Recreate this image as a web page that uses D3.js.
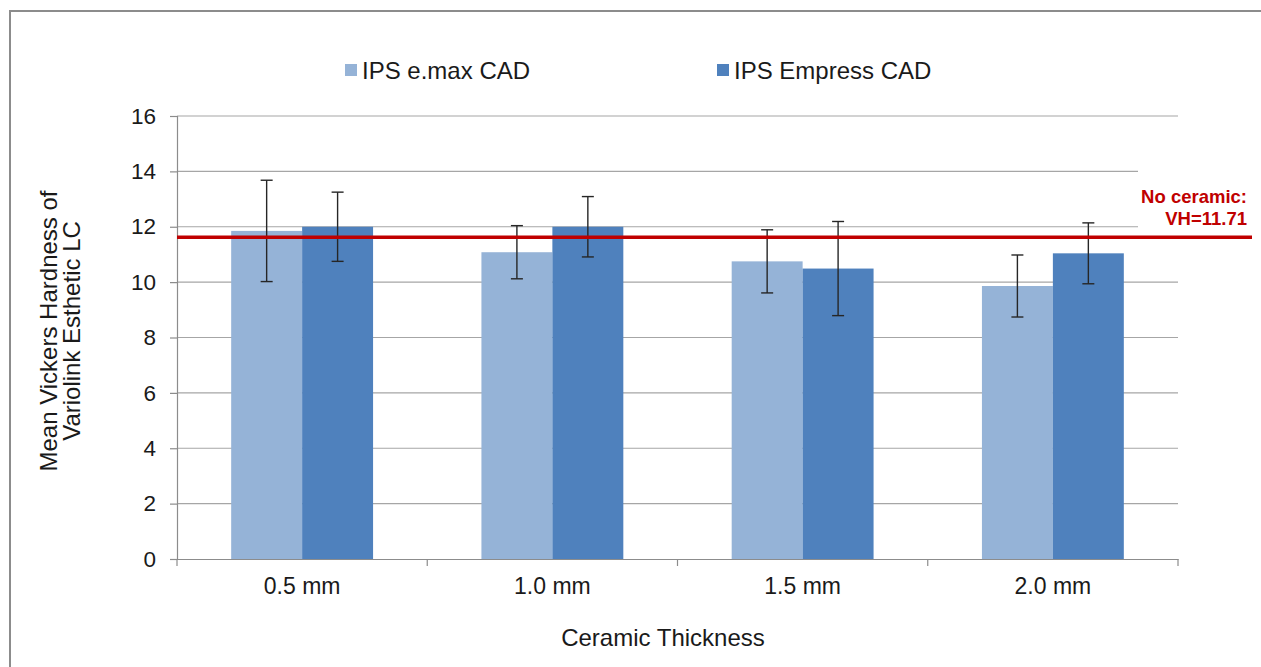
<!DOCTYPE html>
<html><head><meta charset="utf-8">
<script src="https://cdn.jsdelivr.net/npm/d3@7"></script>
<style>
html,body{margin:0;padding:0;background:#fff;}
svg text{font-family:Arial,"Liberation Sans",sans-serif;fill:#1a1a1a;}
</style></head>
<body>
<svg id="chart" width="1261" height="667"></svg>
<script>
const categories = ["0.5 mm", "1.0 mm", "1.5 mm", "2.0 mm"];
const seriesNames = ["IPS e.max CAD", "IPS Empress CAD"];
const emaxMean = [11.85, 11.08, 10.75, 9.86];
const emaxErr = [1.83, 0.96, 1.14, 1.12];
const empressMean = [12.0, 12.0, 10.49, 11.04];
const empressErr = [1.25, 1.09, 1.70, 1.10];
const yTicks = [0, 2, 4, 6, 8, 10, 12, 14, 16];
const refLineValue = 11.62;
const refLabel = ["No ceramic:", "VH=11.71"];
const colors = ["#95b3d7", "#4f81bd"];

(function(){
const FONT = "Arial, 'Liberation Sans', sans-serif";
const svg = d3.select("#chart");
// outer border
svg.append("rect").attr("x",10).attr("y",11).attr("width",1300).attr("height",700)
  .attr("fill","#fff").attr("stroke","#8c8c8c").attr("stroke-width",2);

const pLeft = 177, pRight = 1178, pTop = 116, pBottom = 559;
const x = d3.scaleBand().domain(categories).range([pLeft, pRight]).paddingInner(0).paddingOuter(0);
const y = d3.scaleLinear().domain([0, 16]).range([pBottom, pTop]);

// gridlines
svg.append("g").selectAll("line").data(yTicks.filter(d => d > 0)).join("line")
  .attr("x1", pLeft).attr("x2", pRight).attr("y1", d => y(d)).attr("y2", d => y(d))
  .attr("stroke", "#a6a6a6").attr("stroke-width", 1.2);

// bars
const series = [
  {name: seriesNames[0], mean: emaxMean, err: emaxErr, color: colors[0]},
  {name: seriesNames[1], mean: empressMean, err: empressErr, color: colors[1]}
];
const sub = d3.scaleBand().domain([0,1]).range([0, x.bandwidth()*0.567]);
const groupOffset = x.bandwidth()*(1-0.567)/2;

series.forEach((s, si) => {
  const g = svg.append("g");
  g.selectAll("rect").data(categories).join("rect")
    .attr("x", c => x(c) + groupOffset + sub(si))
    .attr("width", sub.bandwidth())
    .attr("y", (c,i) => y(s.mean[i]))
    .attr("height", (c,i) => y(0) - y(s.mean[i]))
    .attr("fill", s.color);
});

// error bars
series.forEach((s, si) => {
  const g = svg.append("g").attr("stroke", "#262626").attr("stroke-width", 1.4);
  categories.forEach((c, i) => {
    const cx = x(c) + groupOffset + sub(si) + sub.bandwidth()/2;
    const y1 = y(s.mean[i] + s.err[i]), y2 = y(s.mean[i] - s.err[i]);
    g.append("line").attr("x1", cx).attr("x2", cx).attr("y1", y1).attr("y2", y2);
    g.append("line").attr("x1", cx-6).attr("x2", cx+6).attr("y1", y1).attr("y2", y1);
    g.append("line").attr("x1", cx-6).attr("x2", cx+6).attr("y1", y2).attr("y2", y2);
  });
});

// y axis
const yAxis = svg.append("g").attr("transform", `translate(${pLeft},0)`)
  .call(d3.axisLeft(y).tickValues(yTicks).tickSize(7).tickPadding(14));
yAxis.select(".domain").attr("stroke", "#8c8c8c").attr("stroke-width",1.2);
yAxis.selectAll(".tick line").attr("stroke", "#8c8c8c").attr("stroke-width",1.2);
yAxis.selectAll(".tick text").attr("font-size", 22.5).attr("font-family",FONT).attr("fill","#1a1a1a");

// x axis
const xAxis = svg.append("g").attr("transform", `translate(0,${pBottom})`)
  .call(d3.axisBottom(x).tickSize(0).tickPadding(19));
xAxis.select(".domain").attr("stroke", "#8c8c8c").attr("stroke-width",1.2);
xAxis.selectAll(".tick text").attr("font-size", 23).attr("font-family",FONT).attr("fill","#1a1a1a");
// boundary ticks
const bounds = categories.map(c => x(c)).concat([x(categories[categories.length-1]) + x.bandwidth()]);
svg.append("g").selectAll("line").data(bounds).join("line")
  .attr("x1", d => d).attr("x2", d => d).attr("y1", pBottom).attr("y2", pBottom+7)
  .attr("stroke", "#8c8c8c").attr("stroke-width",1.2);

// reference label background & text
svg.append("rect").attr("x", 1138).attr("y", 166).attr("width", 120).attr("height", 66).attr("fill", "#fff");
const lbl = svg.append("text").attr("text-anchor","end").attr("font-weight","bold")
  .attr("font-size", 18.5).style("fill","#c00000");
lbl.append("tspan").attr("x", 1247).attr("y", 203).text(refLabel[0]);
lbl.append("tspan").attr("x", 1247).attr("y", 225).text(refLabel[1]);

// reference line
svg.append("line").attr("x1", pLeft).attr("x2", 1252)
  .attr("y1", y(refLineValue)).attr("y2", y(refLineValue))
  .attr("stroke", "#c00000").attr("stroke-width", 3.5);

// legend
const legendX = [345, 717];
series.forEach((s, si) => {
  svg.append("rect").attr("x", legendX[si]).attr("y", 64).attr("width", 12).attr("height", 12).attr("fill", s.color);
  svg.append("text").attr("x", legendX[si] + 17).attr("y", 79).attr("font-size", 24).text(s.name);
});

// axis titles
svg.append("text").attr("x", 663).attr("y", 646).attr("text-anchor","middle").attr("font-size",24).text("Ceramic Thickness");
const yt = svg.append("text").attr("transform","rotate(-90)").attr("text-anchor","middle").attr("font-size",24);
yt.append("tspan").attr("x", -331).attr("y", 57).text("Mean Vickers Hardness of");
yt.append("tspan").attr("x", -331).attr("y", 80).text("Variolink Esthetic LC");
})();
</script>
</body></html>
